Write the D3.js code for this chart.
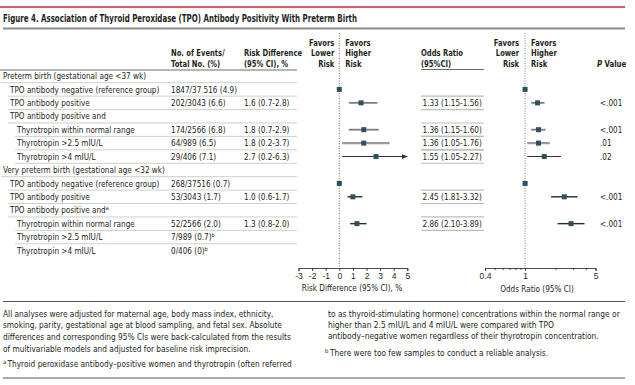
<!DOCTYPE html>
<html>
<head>
<meta charset="utf-8">
<script src="https://cdn.jsdelivr.net/npm/d3@7"></script>
<style>
  body { margin: 0; background: #fff; }
  svg { display: block; font-family: "Liberation Sans Narrow", "DejaVu Sans Condensed", "Roboto", sans-serif; }
</style>
</head>
<body>
<script>
const width = 635, height = 385;

// Row labels and their nesting level
const labels = [
  "Preterm birth (gestational age <37 wk)",
  "TPO antibody negative (reference group)",
  "TPO antibody positive",
  "TPO antibody positive and",
  "Thyrotropin within normal range",
  "Thyrotropin >2.5 mIU/L",
  "Thyrotropin >4 mIU/L",
  "Very preterm birth (gestational age <32 wk)",
  "TPO antibody negative (reference group)",
  "TPO antibody positive",
  "TPO antibody positive and",
  "Thyrotropin within normal range",
  "Thyrotropin >2.5 mIU/L",
  "Thyrotropin >4 mIU/L"
];
const labelSup = [null, null, null, null, null, null, null, null, null, null, "a", null, null, null];
const levels = [0, 1, 1, 1, 2, 2, 2, 0, 1, 1, 1, 2, 2, 2];
const events = ["", "1847/37 516 (4.9)", "202/3043 (6.6)", "", "174/2566 (6.8)", "64/989 (6.5)", "29/406 (7.1)",
  "", "268/37516 (0.7)", "53/3043 (1.7)", "", "52/2566 (2.0)", "7/989 (0.7)", "0/406 (0)"];
const eventSup = [null, null, null, null, null, null, null, null, null, null, null, null, "b", "b"];

// Risk difference (%)
const rdEst = [null, 0, 1.6, null, 1.8, 1.8, 2.7, null, 0, 1.0, null, 1.3, null, null];
const rdLo  = [null, null, 0.7, null, 0.7, 0.2, 0.2, null, null, 0.6, null, 0.8, null, null];
const rdHi  = [null, null, 2.8, null, 2.9, 3.7, 6.3, null, null, 1.7, null, 2.0, null, null];

// Odds ratio
const orEst = [null, 1, 1.33, null, 1.36, 1.36, 1.55, null, 1, 2.45, null, 2.86, null, null];
const orLo  = [null, null, 1.15, null, 1.15, 1.05, 1.05, null, null, 1.81, null, 2.10, null, null];
const orHi  = [null, null, 1.56, null, 1.60, 1.76, 2.27, null, null, 3.32, null, 3.89, null, null];
const pValues = ["", "", "<.001", "", "<.001", ".01", ".02", "", "", "<.001", "", "<.001", "", ""];

const rdTicks = [-3, -2, -1, 0, 1, 2, 3, 4, 5];
const orTickLabels = [0.4, 1, 5];
const orMinorTicks = [0.5, 0.6, 0.7, 0.8, 0.9, 2, 3, 4];

const fmtRd = i => `${rdEst[i].toFixed(1)} (${rdLo[i].toFixed(1)}-${rdHi[i].toFixed(1)})`;
const fmtOr = i => `${orEst[i].toFixed(2)} (${orLo[i].toFixed(2)}-${orHi[i].toFixed(2)})`;

const ink = "#231f20";
const markColor = "#2f4f5b";

// Squeeze text horizontally, the fallback font is wider than the original
function squeeze(sel, k) {
  sel.each(function() {
    const w = this.getComputedTextLength();
    d3.select(this).attr("textLength", w * k).attr("lengthAdjust", "spacingAndGlyphs");
  });
  return sel;
}
// text with a superscript: smaller font instead of squeezing, sup as tspan
function withSup(parent, x, yy, main, letter) {
  const t = parent.append("text").attr("x", x).attr("y", yy).style("font-size", "8.1px").text(main);
  t.append("tspan").attr("dy", -3).style("font-size", "5.5px").text(letter);
  return t;
}

const svg = d3.select("body").append("svg")
  .attr("width", width)
  .attr("height", height);

// Scales
const y = d3.scalePoint().domain(d3.range(labels.length)).range([76, 250.5]);
const xRd = d3.scaleLinear().domain([-3, 5]).range([298.5, 407.3]);
const xOr = d3.scaleLog().domain([0.4, 5]).range([485, 595.5]);
const indent = d3.scaleOrdinal().domain([0, 1, 2]).range([3, 10, 17]);

// Title block
svg.append("line").attr("x1", 0).attr("x2", 625).attr("y1", 7).attr("y2", 7)
  .style("stroke", "#d7262e").style("stroke-width", 1.5);
svg.append("text").attr("x", 3).attr("y", 22)
  .style("font-size", "10.5px").style("font-weight", "bold").style("fill", ink)
  .attr("textLength", 354).attr("lengthAdjust", "spacingAndGlyphs")
  .text("Figure 4. Association of Thyroid Peroxidase (TPO) Antibody Positivity With Preterm Birth");
svg.append("line").attr("x1", 3).attr("x2", 625).attr("y1", 28.5).attr("y2", 28.5)
  .style("stroke", "#8c8c8c").style("stroke-width", 2);

// Column headers
function header(x, lines, anchor, y0) {
  lines.forEach((l, j) => {
    const t = svg.append("text").attr("x", x).attr("y", y0 + j * 10.5)
      .attr("text-anchor", anchor || "start")
      .style("font-size", "9px").style("font-weight", "bold").style("fill", ink)
      .text(l);
    squeeze(t, 0.84);
  });
}
header(171, ["No. of Events/", "Total No. (%)"], "start", 56);
header(244, ["Risk Difference", "(95% CI), %"], "start", 56);
header(xRd(0) - 5, ["Favors", "Lower", "Risk"], "end", 45.5);
header(xRd(0) + 6, ["Favors", "Higher", "Risk"], "start", 45.5);
header(421, ["Odds Ratio", "(95%CI)"], "start", 56);
header(xOr(1) - 6, ["Favors", "Lower", "Risk"], "end", 45.5);
header(xOr(1) + 6, ["Favors", "Higher", "Risk"], "start", 45.5);
const pv = svg.append("text").attr("x", 597).attr("y", 66.5)
  .style("font-size", "9px").style("font-weight", "bold").style("fill", ink);
pv.append("tspan").style("font-style", "italic").text("P");
pv.append("tspan").text(" Value");
squeeze(pv, 0.86);

svg.append("line").attr("x1", 0).attr("x2", 297).attr("y1", 70).attr("y2", 70)
  .style("stroke", "#6d6d6d").style("stroke-width", 1.2);
svg.append("line").attr("x1", 421).attr("x2", 484).attr("y1", 69.5).attr("y2", 69.5)
  .style("stroke", "#6d6d6d").style("stroke-width", 1.2);

const rows = d3.range(labels.length);
const half = (y(1) - y(0)) / 2;

// Row separators in the table
svg.append("g").selectAll("line")
  .data(rows.slice(0, -1))
  .join("line")
  .attr("x1", i => indent(levels[i]) - 2)
  .attr("x2", 297)
  .attr("y1", i => y(i) + half)
  .attr("y2", i => y(i) + half)
  .style("stroke", "#cfcfcf").style("stroke-width", 1);

// Boxes around odds ratio text
const orRows = rows.filter(i => orLo[i] != null);
svg.append("g").selectAll("line")
  .data(orRows.flatMap(i => [y(i) - half, y(i) + half]))
  .join("line")
  .attr("x1", 421).attr("x2", 484)
  .attr("y1", d => d).attr("y2", d => d)
  .style("stroke", "#bdbdbd").style("stroke-width", 1.2);

// Row text
const textG = svg.append("g").style("font-size", "9px").style("fill", ink);
const k = 0.9;
rows.forEach(i => {
  const ty = y(i) + 3.2;
  if (labelSup[i]) withSup(textG, indent(levels[i]), ty, labels[i], labelSup[i]);
  else squeeze(textG.append("text").attr("x", indent(levels[i])).attr("y", ty).text(labels[i]), k);
  if (events[i]) {
    if (eventSup[i]) withSup(textG, 171, ty, events[i], eventSup[i]);
    else squeeze(textG.append("text").attr("x", 171).attr("y", ty).text(events[i]), k);
  }
  if (rdLo[i] != null) {
    squeeze(textG.append("text").attr("x", 244).attr("y", ty).text(fmtRd(i)), k);
  }
  if (orLo[i] != null) {
    squeeze(textG.append("text").attr("x", 422.5).attr("y", ty).text(fmtOr(i)), k);
  }
  if (pValues[i]) {
    squeeze(textG.append("text").attr("x", 600).attr("y", ty).text(pValues[i]), k);
  }
});

// Reference lines
svg.append("line").attr("x1", xRd(0)).attr("x2", xRd(0)).attr("y1", 33).attr("y2", 268)
  .style("stroke", "#555").style("stroke-width", 0.8).style("stroke-dasharray", "1,1.5");
svg.append("line").attr("x1", xOr(1)).attr("x2", xOr(1)).attr("y1", 33).attr("y2", 268)
  .style("stroke", "#555").style("stroke-width", 0.8).style("stroke-dasharray", "1,1.5");

// CI line styles (preterm rows lighter, very preterm darker)
const ciStyle = i => {
  if (i === 5) return { c: "#9a9a9a", w: 2.2 };
  if (i === 6) return { c: "#333", w: 1.1 };
  if (i >= 7) return { c: "#2b2b2b", w: 1.4 };
  return { c: "#7d7d7d", w: 1.8 };
};

svg.append("defs").append("marker")
  .attr("id", "arrow").attr("viewBox", "0 0 10 10")
  .attr("refX", 9).attr("refY", 5)
  .attr("markerWidth", 6).attr("markerHeight", 6)
  .attr("markerUnits", "userSpaceOnUse")
  .attr("orient", "auto")
  .append("path").attr("d", "M0,1L10,5L0,9Z").style("fill", "#333");

// Risk difference CIs
const rdRows = rows.filter(i => rdLo[i] != null);
svg.append("g").selectAll("line")
  .data(rdRows)
  .join("line")
  .attr("x1", i => xRd(Math.max(-3, rdLo[i])))
  .attr("x2", i => xRd(Math.min(5, rdHi[i])))
  .attr("y1", i => y(i)).attr("y2", i => y(i))
  .attr("marker-end", i => rdHi[i] > 5 ? "url(#arrow)" : null)
  .style("stroke", i => ciStyle(i).c)
  .style("stroke-width", i => ciStyle(i).w);

// Odds ratio CIs
svg.append("g").selectAll("line")
  .data(orRows)
  .join("line")
  .attr("x1", i => xOr(orLo[i]))
  .attr("x2", i => xOr(orHi[i]))
  .attr("y1", i => y(i)).attr("y2", i => y(i))
  .style("stroke", i => ciStyle(i).c)
  .style("stroke-width", i => ciStyle(i).w);

// Point markers
const sq = 5;
svg.append("g").selectAll("rect")
  .data(rows.filter(i => rdEst[i] != null))
  .join("rect")
  .attr("x", i => xRd(rdEst[i]) - sq / 2)
  .attr("y", i => y(i) - sq / 2)
  .attr("width", sq).attr("height", sq)
  .style("fill", markColor);
svg.append("g").selectAll("rect")
  .data(rows.filter(i => orEst[i] != null))
  .join("rect")
  .attr("x", i => xOr(orEst[i]) - sq / 2)
  .attr("y", i => y(i) - sq / 2)
  .attr("width", sq).attr("height", sq)
  .style("fill", markColor);

// Axes
const axisY = 268;
svg.append("g").attr("transform", `translate(0,${axisY})`)
  .call(d3.axisBottom(xRd).tickValues(rdTicks).tickSize(3).tickPadding(2).tickFormat(d => String(d)));
svg.append("g").attr("transform", `translate(0,${axisY})`)
  .call(d3.axisBottom(xOr).tickValues(orTickLabels).tickSize(3).tickPadding(2).tickFormat(d => d));
svg.append("g").attr("transform", `translate(0,${axisY})`)
  .call(d3.axisBottom(xOr).tickValues(orMinorTicks).tickSize(2).tickFormat(""))
  .select(".domain").remove();
svg.selectAll(".tick text")
  .style("font-family", "inherit").style("font-size", "8.5px").style("fill", ink);
svg.selectAll(".domain").style("stroke", ink).style("stroke-width", 0.8);
svg.selectAll(".tick line").style("stroke", ink).style("stroke-width", 0.8);

squeeze(svg.append("text").attr("x", 352).attr("y", 290.5).attr("text-anchor", "middle")
  .style("font-size", "9px").style("fill", ink).text("Risk Difference (95% CI), %"), 0.9);
squeeze(svg.append("text").attr("x", 537).attr("y", 292).attr("text-anchor", "middle")
  .style("font-size", "9px").style("fill", ink).text("Odds Ratio (95% CI)"), 0.9);

// Footnotes
svg.append("line").attr("x1", 3).attr("x2", 625).attr("y1", 301.5).attr("y2", 301.5)
  .style("stroke", "#555").style("stroke-width", 1);
svg.append("line").attr("x1", 3).attr("x2", 625).attr("y1", 378).attr("y2", 378)
  .style("stroke", "#555").style("stroke-width", 1);

const leftNotes = [
  "All analyses were adjusted for maternal age, body mass index, ethnicity,",
  "smoking, parity, gestational age at blood sampling, and fetal sex. Absolute",
  "differences and corresponding 95% CIs were back-calculated from the results",
  "of multivariable models and adjusted for baseline risk imprecision."
];
const rightNotes = [
  "to as thyroid-stimulating hormone) concentrations within the normal range or",
  "higher than 2.5 mIU/L and 4 mIU/L were compared with TPO",
  "antibody\u2013negative women regardless of their thyrotropin concentration."
];
const noteG = svg.append("g").style("font-size", "8.5px").style("fill", ink);
leftNotes.forEach((l, j) => squeeze(noteG.append("text").attr("x", 3).attr("y", 316.5 + j * 11.7).text(l), 0.97));
rightNotes.forEach((l, j) => squeeze(noteG.append("text").attr("x", 328).attr("y", 316.5 + j * 11).text(l), 0.98));
noteG.append("text").attr("x", 3).attr("y", 364).style("font-size", "6px").text("a");
squeeze(noteG.append("text").attr("x", 7.5).attr("y", 367)
  .text("Thyroid peroxidase antibody\u2013positive women and thyrotropin (often referred"), 0.97);
noteG.append("text").attr("x", 325).attr("y", 353).style("font-size", "6px").text("b");
squeeze(noteG.append("text").attr("x", 330).attr("y", 356)
  .text("There were too few samples to conduct a reliable analysis."), 0.97);
</script>
</body>
</html>
